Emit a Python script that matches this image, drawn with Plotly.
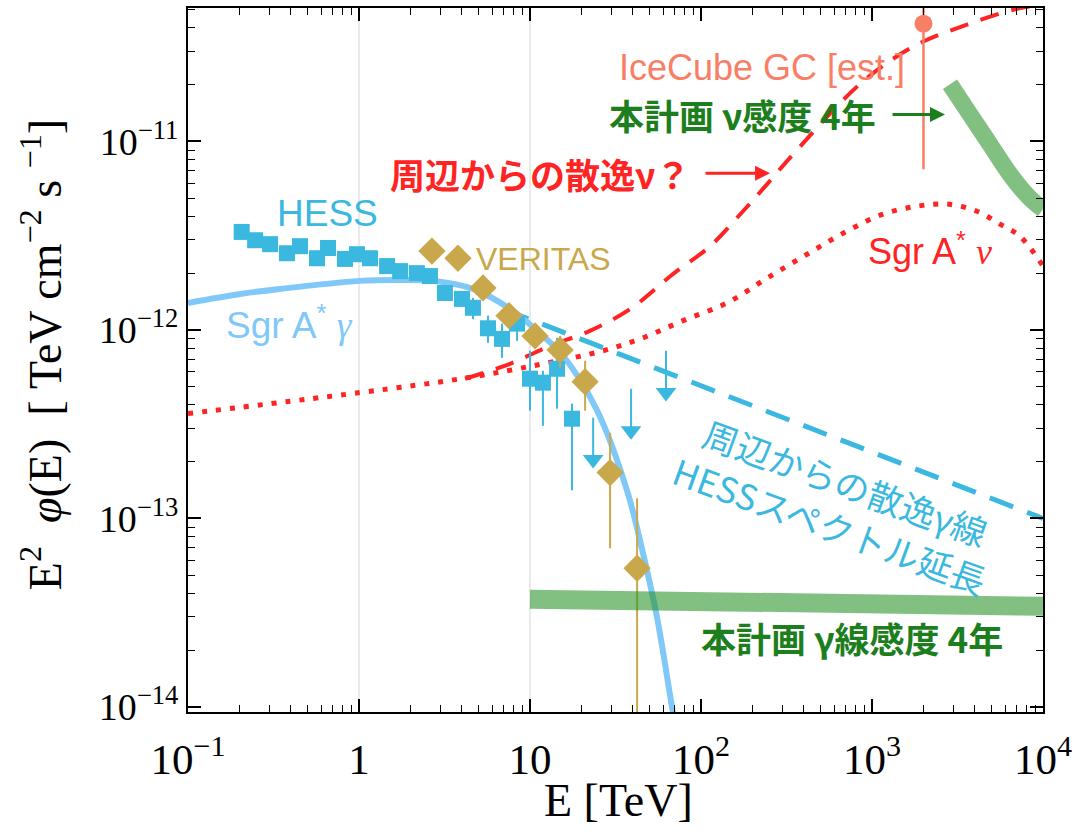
import numpy as np
import plotly.graph_objects as go

# ---------------- data (E in TeV, E^2 dN/dE in TeV cm^-2 s^-1) ----------------
hess_e = [0.206, 0.247, 0.302, 0.379, 0.452, 0.568, 0.659, 0.828, 0.973, 1.16, 1.46, 1.74,
          2.18, 2.60, 3.18, 4.00, 4.64, 5.68, 6.86, 8.40, 10.0, 11.9, 14.4, 17.6]
hess_f = [3.31e-12, 2.99e-12, 2.85e-12, 2.55e-12, 2.78e-12, 2.40e-12, 2.72e-12, 2.38e-12,
          2.52e-12, 2.40e-12, 2.18e-12, 2.05e-12, 2.00e-12, 1.93e-12, 1.57e-12, 1.46e-12,
          1.31e-12, 1.02e-12, 8.96e-13, 1.08e-12, 5.51e-13, 5.25e-13, 6.22e-13, 3.38e-13]
hess_f_hi = hess_f[:16] + [1.48e-12, 1.19e-12, 1.08e-12, 1.23e-12, 7.75e-13, 6.07e-13, 9.08e-13, 4.06e-13]
hess_f_lo = hess_f[:16] + [1.14e-12, 8.54e-13, 7.11e-13, 8.75e-13, 3.73e-13, 3.10e-13, 3.82e-13, 1.41e-13]

hess_ul_e = [23.4, 39.0, 62.4]
hess_ul_f = [3.42e-13, 4.87e-13, 7.75e-13]

veritas_e = [2.67, 3.79, 5.31, 7.54, 10.7, 15.0, 21.0, 29.4, 42.3]
veritas_f = [2.62e-12, 2.40e-12, 1.67e-12, 1.19e-12, 9.29e-13, 7.83e-13, 5.31e-13, 1.75e-13, 5.44e-14]
veritas_f_hi = [2.62e-12, 2.40e-12, 1.67e-12, 1.19e-12, 1.00e-12, 9.29e-13, 6.86e-13, 2.85e-13, 1.28e-13]
veritas_f_lo = [2.62e-12, 2.40e-12, 1.67e-12, 1.19e-12, 8.60e-13, 6.33e-13, 3.73e-13, 6.94e-14, 5.0e-15]

icecube_e = [2000.0]
icecube_f = [4.21e-11]
icecube_f_hi = [7.0e-11]
icecube_f_lo = [7.11e-12]

sgra_gamma_e = [0.1, 0.202, 0.345, 1.01, 1.67, 2.71, 4.64, 7.96, 11.0, 15.6, 24.7, 36.9, 45.8, 55.3, 68.6, 75.0]
sgra_gamma_f = [1.39e-12, 1.55e-12, 1.65e-12, 1.82e-12, 1.84e-12, 1.82e-12, 1.65e-12, 1.26e-12,
                9.88e-13, 7.28e-13, 3.73e-13, 1.41e-13, 6.53e-14, 2.99e-14, 9.3e-15, 6.0e-15]

hess_ext_e = [7.14, 1.0e4]
hess_ext_f = [1.28e-12, 1.0e-13]

diffuse_nu_e = [4.17, 7.64, 13.1, 22.4, 38.5, 68.6, 113, 176, 243, 345, 885, 1832, 3594, 7047, 10000]
diffuse_nu_f = [5.51e-13, 6.61e-13, 8.23e-13, 9.88e-13, 1.29e-12, 1.98e-12, 2.78e-12, 4.26e-12,
                5.92e-12, 8.53e-12, 2.08e-11, 3.26e-11, 4.16e-11, 5.05e-11, 5.3e-11]

sgra_nu_e = [0.1, 1.01, 4.28, 11.9, 26.7, 45.8, 78.5, 142, 243, 417, 714, 1159, 1832, 2745,
             4113, 5610, 7330, 10000]
sgra_nu_f = [3.60e-13, 4.65e-13, 5.57e-13, 6.61e-13, 7.75e-13, 9.08e-13, 1.12e-12, 1.39e-12,
             1.88e-12, 2.52e-12, 3.34e-12, 4.11e-12, 4.53e-12, 4.65e-12, 4.26e-12, 3.64e-12,
             3.14e-12, 2.18e-12]

sens_gamma_e = [10.0, 100.0, 1000.0, 10000.0]
sens_gamma_f = [3.73e-14, 3.6e-14, 3.5e-14, 3.42e-14]

sens_nu_e = [2858, 3741, 4898, 6412, 8395, 10000]
sens_nu_f = [2.01e-11, 1.39e-11, 9.64e-12, 6.69e-12, 4.99e-12, 4.37e-12]

x_tickvals = [0.1, 1, 10, 100, 1000, 10000]
x_ticktext = ["10<sup>−1</sup>", "1", "10", "10<sup>2</sup>", "10<sup>3</sup>", "10<sup>4</sup>"]
y_tickvals = [1e-14, 1e-13, 1e-12, 1e-11]
y_ticktext = ["10<sup>−14</sup>", "10<sup>−13</sup>", "10<sup>−12</sup>", "10<sup>−11</sup>"]

# ---------------- styling ----------------
C_HESS = "#3BB8E0"
C_VER = "#C9A74B"
C_SGRG = "#80C8F8"
C_RED = "#FF2424"
C_ICE = "#F97E66"
C_GREEN_BAND = "rgba(45,150,45,0.6)"
C_GREEN_TXT = "#1C7E1C"
SERIF = "Liberation Serif, Times New Roman, serif"
SANS = "Liberation Sans, Arial, sans-serif"
JP = "Noto Sans CJK JP, sans-serif"


def err(center, hi, lo):
    up = [h - c for c, h in zip(center, hi)]
    dn = [c - l for c, l in zip(center, lo)]
    return up, dn


fig = go.Figure()

# Sgr A* neutrino model (dotted)
fig.add_trace(go.Scatter(x=sgra_nu_e, y=sgra_nu_f, mode="lines", line_shape="spline",
                         line=dict(color=C_RED, width=5, dash="5px,9px")))
# diffuse neutrinos from the surroundings (dashed)
fig.add_trace(go.Scatter(x=diffuse_nu_e, y=diffuse_nu_f, mode="lines", line_shape="spline",
                         line=dict(color=C_RED, width=4, dash="19px,13px")))
# HESS diffuse spectrum extension
fig.add_trace(go.Scatter(x=hess_ext_e, y=hess_ext_f, mode="lines",
                         line=dict(color=C_HESS, width=5, dash="25px,15px")))
# Sgr A* gamma model
fig.add_trace(go.Scatter(x=sgra_gamma_e, y=sgra_gamma_f, mode="lines", line_shape="spline",
                         line=dict(color=C_SGRG, width=6)))

# HESS points
up, dn = err(hess_f, hess_f_hi, hess_f_lo)
fig.add_trace(go.Scatter(x=hess_e, y=hess_f, mode="markers",
                         marker=dict(symbol="square", size=16, color=C_HESS),
                         error_y=dict(type="data", symmetric=False, array=up, arrayminus=dn,
                                      color=C_HESS, thickness=2, width=0)))
# HESS upper limits: arrow drawn from the limit downwards
ul_factor = 0.6
ul_tip = [f * ul_factor for f in hess_ul_f]
fig.add_trace(go.Scatter(x=hess_ul_e, y=ul_tip, mode="markers",
                         marker=dict(symbol="triangle-down", size=18, color=C_HESS),
                         error_y=dict(type="data", symmetric=False,
                                      array=[f - t for f, t in zip(hess_ul_f, ul_tip)],
                                      arrayminus=[0] * len(ul_tip),
                                      color=C_HESS, thickness=2, width=0)))

# VERITAS points
up, dn = err(veritas_f, veritas_f_hi, veritas_f_lo)
fig.add_trace(go.Scatter(x=veritas_e, y=veritas_f, mode="markers",
                         marker=dict(symbol="diamond", size=21, color=C_VER),
                         error_y=dict(type="data", symmetric=False, array=up, arrayminus=dn,
                                      color=C_VER, thickness=2, width=0)))

# sensitivities
fig.add_trace(go.Scatter(x=sens_gamma_e, y=sens_gamma_f, mode="lines",
                         line=dict(color=C_GREEN_BAND, width=19)))
fig.add_trace(go.Scatter(x=sens_nu_e, y=sens_nu_f, mode="lines", line_shape="spline",
                         line=dict(color=C_GREEN_BAND, width=17)))

# IceCube estimate
up, dn = err(icecube_f, icecube_f_hi, icecube_f_lo)
fig.add_trace(go.Scatter(x=icecube_e, y=icecube_f, mode="markers",
                         marker=dict(symbol="circle", size=18, color=C_ICE),
                         error_y=dict(type="data", symmetric=False, array=up, arrayminus=dn,
                                      color=C_ICE, thickness=2.5, width=0)))

# light vertical grid at 1 and 10 TeV
for gx in [1, 10]:
    fig.add_shape(type="line", xref="x", yref="paper", x0=gx, x1=gx, y0=0, y1=1,
                  line=dict(color="#DCDCDC", width=1.2), layer="below")


def minor_vals(lo, hi):
    return [m * 10.0 ** k for k in range(lo, hi) for m in range(2, 10)]


axis_common = dict(type="log", showline=True, linecolor="black", linewidth=2, mirror="allticks",
                   ticks="inside", ticklen=13, tickwidth=1.6, tickcolor="black", showgrid=False,
                   zeroline=False)

fig.update_layout(
    width=1085, height=832,
    margin=dict(l=188, r=42, t=6, b=120),
    paper_bgcolor="white", plot_bgcolor="white",
    showlegend=False,
    xaxis=dict(**axis_common, range=[-1, 4], tickmode="array", tickvals=x_tickvals,
               ticktext=x_ticktext, tickfont=dict(family=SERIF, size=43, color="black"),
               ticklabelstandoff=8,
               minor=dict(ticks="inside", ticklen=7, tickwidth=1.3, tickcolor="black",
                          tickvals=minor_vals(-1, 4))),
    yaxis=dict(**axis_common, range=[np.log10(9.4e-15), np.log10(5.1e-11)], tickmode="array",
               tickvals=y_tickvals, ticktext=y_ticktext,
               tickfont=dict(family=SERIF, size=38, color="black"),
               minor=dict(ticks="inside", ticklen=7, tickwidth=1.3, tickcolor="black",
                          tickvals=minor_vals(-15, -10))),
)

ann = []
# axis titles
ann.append(dict(xref="paper", yref="paper", x=-0.171, y=0.508, xanchor="center", yanchor="middle",
                textangle=-90,
                text="E<sup>2</sup>  <i>φ</i>(E)  [ TeV cm<sup>−2</sup> s <sup>−1</sup>]",
                font=dict(family=SERIF, size=46, color="black"), showarrow=False))
ann.append(dict(xref="paper", yref="paper", x=0.504, y=-0.125, xanchor="center", yanchor="middle",
                text="E [TeV]", font=dict(family=SERIF, size=46, color="black"), showarrow=False))

# series labels (positions in log10 data units)
ann.append(dict(x=-0.187, y=-11.381, text="HESS", showarrow=False,
                font=dict(family=SANS, size=37, color=C_HESS)))
ann.append(dict(x=1.076, y=-11.624, text="VERITAS", showarrow=False,
                font=dict(family=SANS, size=32, color=C_VER)))
ann.append(dict(x=-0.404, y=-11.963,
                text="Sgr A<sup>*</sup> <span style='font-family:Liberation Serif'><i>γ</i></span>",
                showarrow=False, font=dict(family=SANS, size=37, color=C_SGRG)))
ann.append(dict(x=3.339, y=-11.571,
                text="Sgr A<sup>*</sup> <span style='font-family:Liberation Serif'><i>ν</i></span>",
                showarrow=False, font=dict(family=SANS, size=36, color=C_RED)))
ann.append(dict(x=2.357, y=-10.608, text="IceCube GC [est.]", showarrow=False,
                font=dict(family=SANS, size=36, color=C_ICE)))
ann.append(dict(x=2.240, y=-10.857, text="<b>本計画 ν感度 4年</b>", showarrow=False,
                font=dict(family=JP, size=35, color=C_GREEN_TXT)))
ann.append(dict(x=3.427, y=-10.857, text="", showarrow=True, ax=-54, ay=0,
                arrowhead=2, arrowsize=1, arrowwidth=3, arrowcolor=C_GREEN_TXT))
ann.append(dict(x=1.058, y=-11.169, text="<b>周辺からの散逸ν？</b>", showarrow=False,
                font=dict(family=JP, size=35, color=C_RED)))
ann.append(dict(x=2.404, y=-11.169, text="", showarrow=True, ax=-66, ay=0,
                arrowhead=2, arrowsize=1, arrowwidth=3, arrowcolor=C_RED))
ann.append(dict(x=2.801, y=-12.921, text="周辺からの散逸γ線<br>HESSスペクトル延長",
                showarrow=False, textangle=20,
                font=dict(family=JP, size=35, color=C_HESS)))
ann.append(dict(x=2.883, y=-13.630, text="<b>本計画 γ線感度 4年</b>", showarrow=False,
                font=dict(family=JP, size=35, color=C_GREEN_TXT)))

fig.update_layout(annotations=ann)

fig.write_html("out.html")
